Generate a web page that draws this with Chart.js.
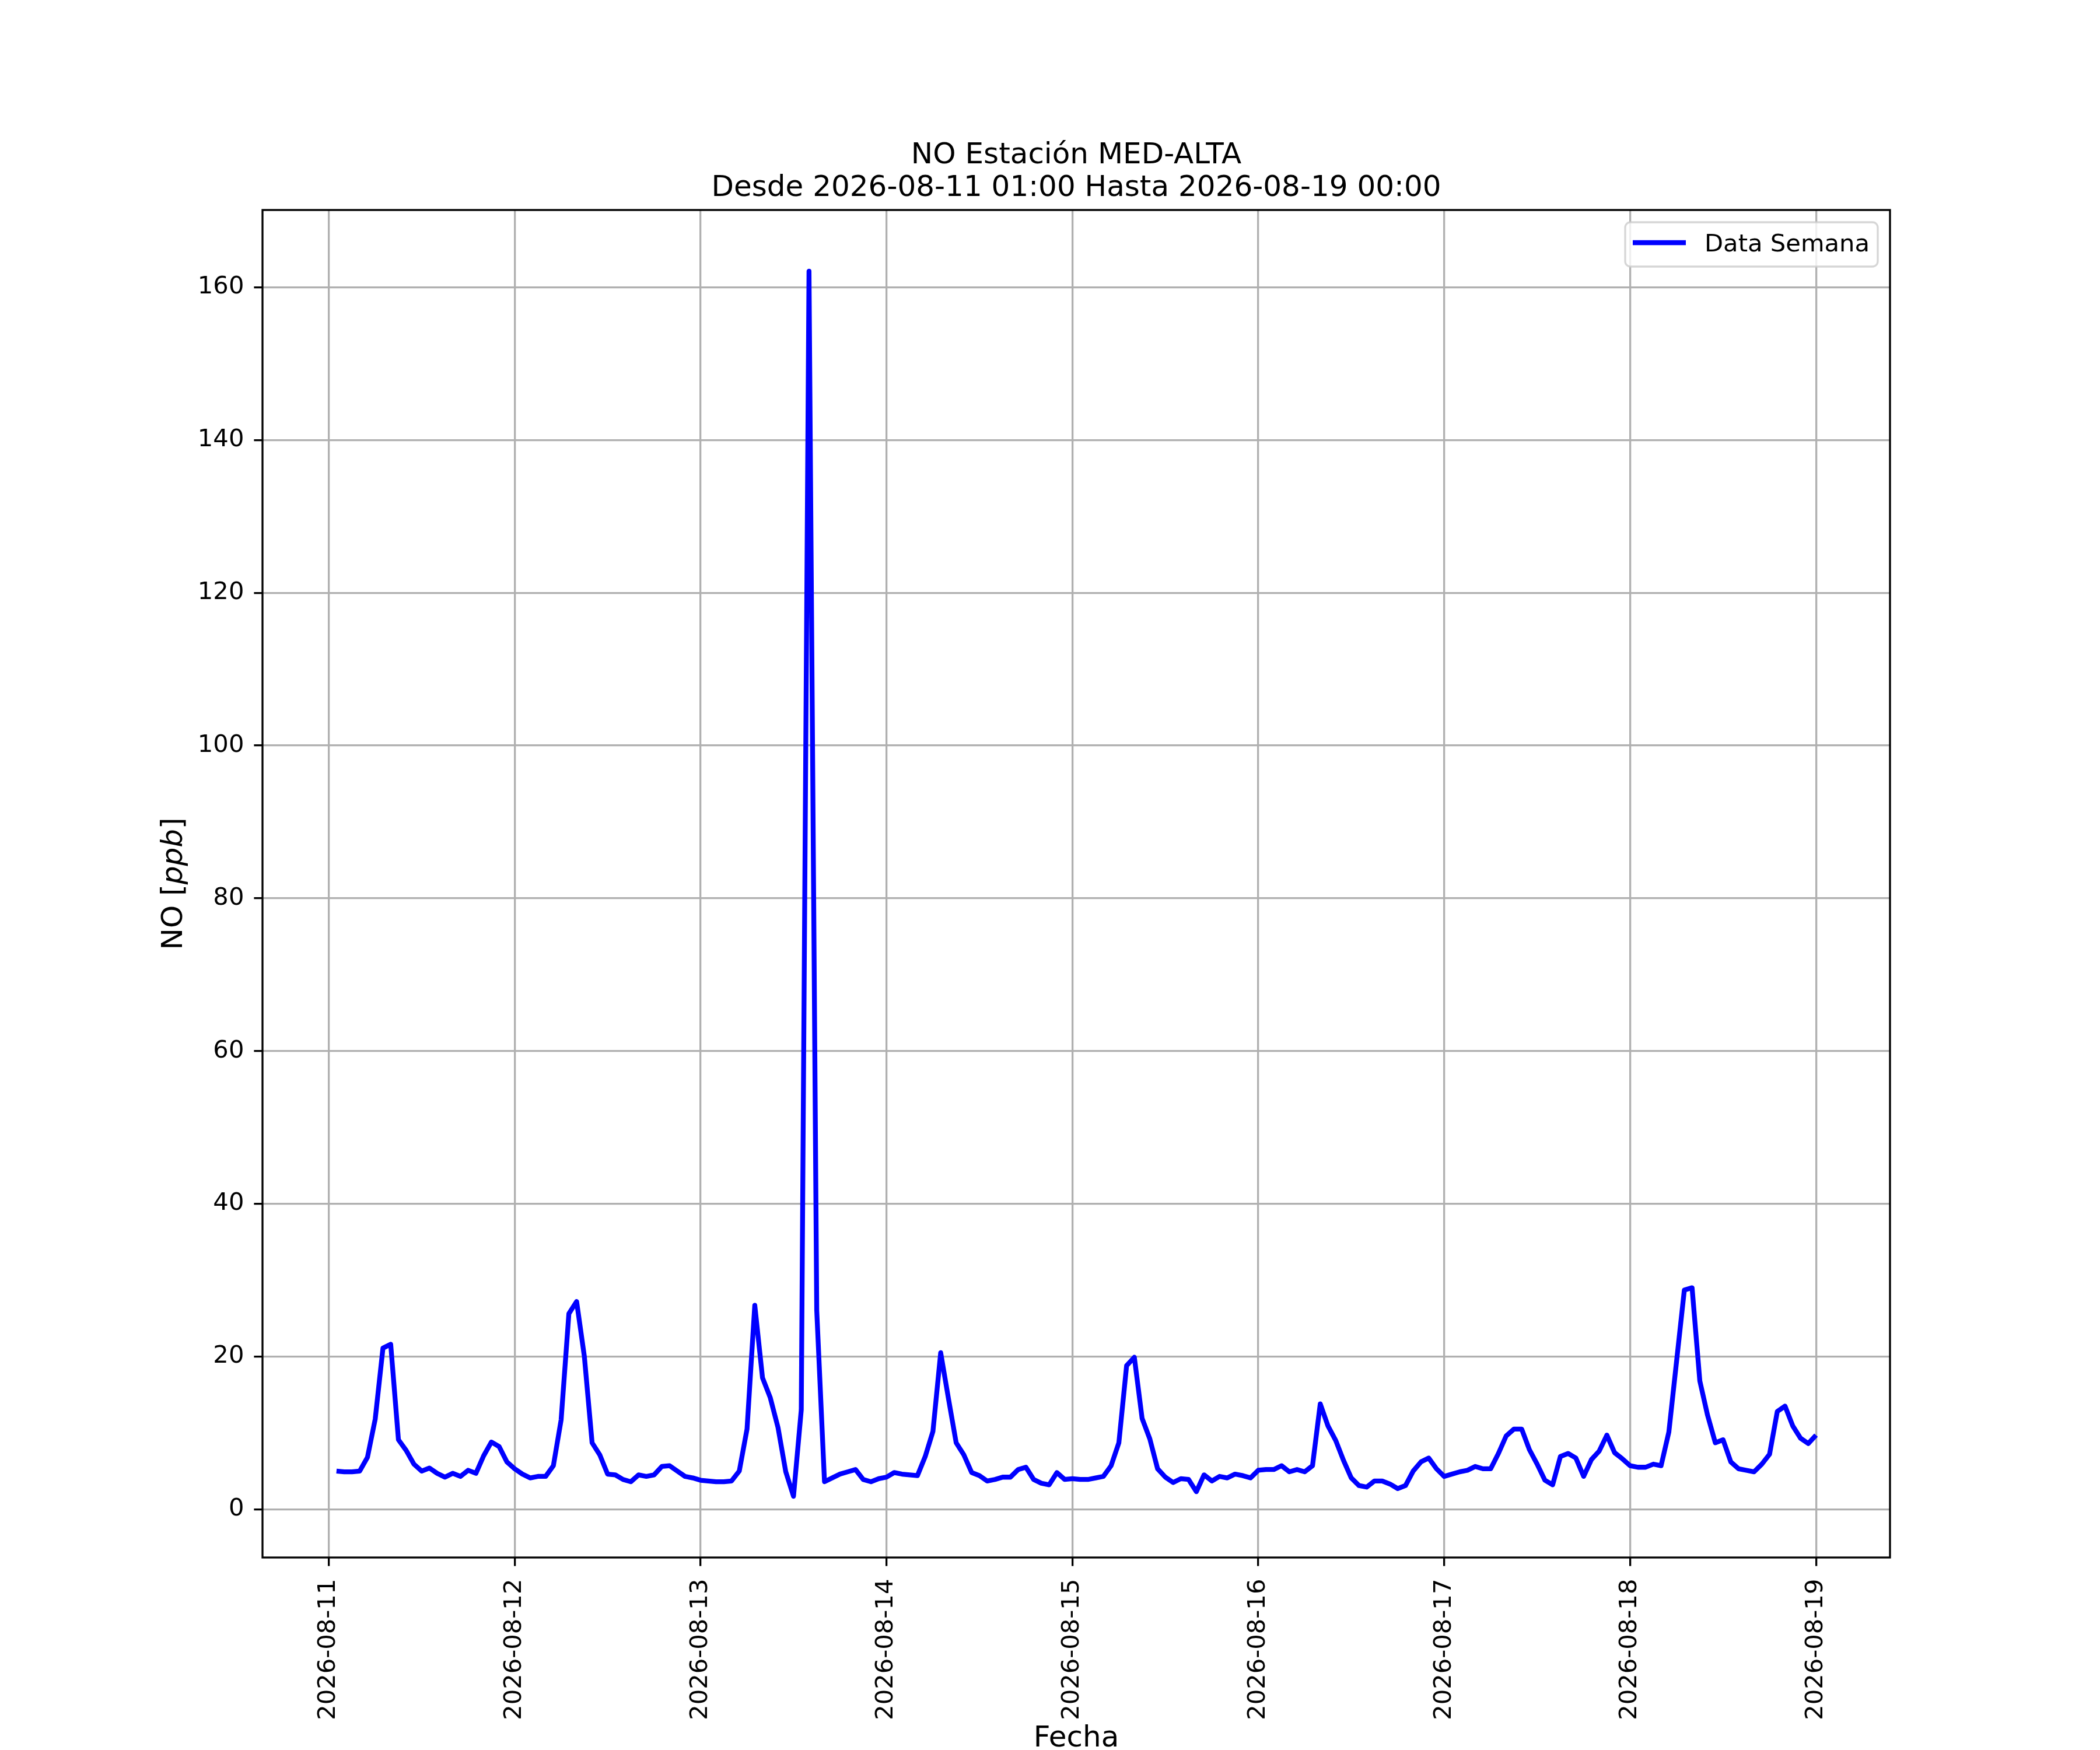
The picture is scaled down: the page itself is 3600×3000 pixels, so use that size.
<!DOCTYPE html>
<html>
<head>
<meta charset="utf-8">
<title>NO Estación MED-ALTA</title>
<script src="https://cdn.jsdelivr.net/npm/chart.js@4.4.0/dist/chart.umd.min.js"></script>
<style>
  html, body { margin: 0; padding: 0; background: #fff; }
  canvas { display: block; }
</style>
</head>
<body>
<canvas id="noChart" width="3600" height="3000"></canvas>
<script>
// hourly NO readings [ppb], one array per day (08-11 starts at 01:00)
const aug11 = [5.0, 4.9, 4.9, 5.0, 6.8, 11.8, 21.1, 21.6, 9.1, 7.7, 5.9, 5.0, 5.4, 4.7, 4.2, 4.7, 4.3, 5.1, 4.7, 7.0, 8.8, 8.2, 6.2];
const aug12 = [5.3, 4.6, 4.1, 4.3, 4.3, 5.7, 11.7, 25.6, 27.2, 20.0, 8.7, 7.1, 4.6, 4.5, 3.9, 3.6, 4.5, 4.3, 4.5, 5.6, 5.7, 5.0, 4.3, 4.1];
const aug13 = [3.8, 3.7, 3.6, 3.6, 3.7, 5.0, 10.5, 26.7, 17.2, 14.6, 10.7, 4.9, 1.7, 13.0, 162.1, 26.0, 3.6, 4.1, 4.6, 4.9, 5.2, 3.9, 3.6, 4.0];
const aug14 = [4.2, 4.8, 4.6, 4.5, 4.4, 6.9, 10.2, 20.5, 14.5, 8.7, 7.1, 4.8, 4.4, 3.7, 3.9, 4.2, 4.2, 5.2, 5.5, 3.9, 3.4, 3.2, 4.8, 3.9];
const aug15 = [4.0, 3.9, 3.9, 4.1, 4.3, 5.7, 8.7, 18.8, 19.9, 11.9, 9.2, 5.3, 4.2, 3.5, 4.0, 3.9, 2.3, 4.5, 3.7, 4.3, 4.1, 4.6, 4.4, 4.1];
const aug16 = [5.1, 5.2, 5.2, 5.7, 4.9, 5.2, 4.9, 5.7, 13.8, 10.9, 9.0, 6.4, 4.1, 3.1, 2.9, 3.7, 3.7, 3.3, 2.7, 3.1, 5.0, 6.2, 6.7, 5.3];
const aug17 = [4.3, 4.6, 4.9, 5.1, 5.6, 5.3, 5.3, 7.3, 9.6, 10.5, 10.5, 7.8, 5.9, 3.8, 3.2, 6.9, 7.3, 6.7, 4.3, 6.5, 7.6, 9.7, 7.4, 6.6];
const aug18 = [5.7, 5.5, 5.5, 5.9, 5.7, 10.1, 19.4, 28.7, 29.0, 16.8, 12.3, 8.7, 9.1, 6.2, 5.3, 5.1, 4.9, 5.9, 7.2, 12.8, 13.5, 10.9, 9.3, 8.6];
const aug19 = [9.7];

const xTickLabels = ['2026-08-11', '2026-08-12', '2026-08-13', '2026-08-14', '2026-08-15',
                     '2026-08-16', '2026-08-17', '2026-08-18', '2026-08-19'];
const yTicks = [0, 20, 40, 60, 80, 100, 120, 140, 160];

const titleLines = ['NO Estación MED-ALTA', 'Desde 2026-08-11 01:00 Hasta 2026-08-19 00:00'];
const seriesLabel = 'Data Semana';

const FONT = "'DejaVu Sans', 'Liberation Sans', sans-serif";
const SMALL = 41.7;   // 10pt at 300 dpi
const LARGE = 50;     // 12pt at 300 dpi

// x is hours since 2026-08-11 00:00
const buildPoints = () => {
    const points = [];
    aug11.forEach((v, i) => points.push({ x: i + 1, y: v }));
    [aug12, aug13, aug14, aug15, aug16, aug17, aug18, aug19].forEach((day, d) => {
        day.forEach((v, h) => points.push({ x: (d + 1) * 24 + h, y: v }));
    });
    return points;
};

const points = buildPoints();
const xTickHours = xTickLabels.map((_, i) => i * 24);

// matplotlib-like autoscale margins (5%)
const xs = points.map(p => p.x), ys = points.map(p => p.y);
const xSpan = Math.max(...xs) - Math.min(...xs);
const ySpan = Math.max(...ys) - Math.min(...ys);

const decorPlugin = {
    id: 'decor',
    afterDraw(chart) {
        const { ctx, chartArea: a } = chart;
        const ds = chart.data.datasets[0];
        ctx.save();

        // frame
        ctx.strokeStyle = '#000';
        ctx.lineWidth = 3.3;
        ctx.strokeRect(a.left, a.top, a.right - a.left, a.bottom - a.top);

        // title
        const cx = (a.left + a.right) / 2;
        ctx.fillStyle = '#000';
        ctx.textAlign = 'center';
        ctx.textBaseline = 'alphabetic';
        ctx.font = `${LARGE}px ${FONT}`;
        ctx.fillText(titleLines[0], cx, 280);
        ctx.fillText(titleLines[1], cx, 336);

        // x axis label
        ctx.fillText('Fecha', cx, 2994);

        // y axis label, "ppb" in italics
        const cy = (a.top + a.bottom) / 2;
        const parts = [['NO [', 'normal'], ['ppb', 'italic'], [']', 'normal']];
        let total = 0;
        parts.forEach(([t, s]) => { ctx.font = `${s} ${LARGE}px ${FONT}`; total += ctx.measureText(t).width; });
        ctx.translate(312, cy);
        ctx.rotate(-Math.PI / 2);
        ctx.textAlign = 'left';
        let px = -total / 2;
        parts.forEach(([t, s]) => {
            ctx.font = `${s} ${LARGE}px ${FONT}`;
            ctx.fillText(t, px, 0);
            px += ctx.measureText(t).width;
        });
        ctx.setTransform(1, 0, 0, 1, 0, 0);

        // legend, upper right
        const bx = 2786, by = 381, bw = 433, bh = 76;
        ctx.beginPath();
        ctx.roundRect(bx, by, bw, bh, 9);
        ctx.fillStyle = 'rgba(255,255,255,0.8)';
        ctx.fill();
        ctx.strokeStyle = 'rgba(204,204,204,0.8)';
        ctx.lineWidth = 3.3;
        ctx.stroke();

        ctx.beginPath();
        ctx.moveTo(2799, 416);
        ctx.lineTo(2890, 416);
        ctx.strokeStyle = ds.borderColor;
        ctx.lineWidth = ds.borderWidth;
        ctx.stroke();

        ctx.fillStyle = '#000';
        ctx.font = `${SMALL}px ${FONT}`;
        ctx.textAlign = 'left';
        ctx.fillText(ds.label, 2922, 431);

        ctx.restore();
    }
};

const ctx = document.getElementById('noChart').getContext('2d');
const chart = new Chart(ctx, {
    type: 'line',
    data: {
        datasets: [{
            label: seriesLabel,
            data: points,
            borderColor: '#0000ff',
            borderWidth: 8.3,
            borderJoinStyle: 'round',
            pointRadius: 0,
            tension: 0,
            fill: false
        }]
    },
    options: {
        responsive: false,
        devicePixelRatio: 1,
        animation: false,
        layout: {
            padding: { top: 360, right: 360, left: 0, bottom: 0 }
        },
        plugins: {
            legend: { display: false },
            title: { display: false },
            tooltip: { enabled: false }
        },
        scales: {
            x: {
                type: 'linear',
                min: Math.min(...xs) - 0.05 * xSpan,
                max: Math.max(...xs) + 0.05 * xSpan,
                afterBuildTicks: (scale) => {
                    scale.ticks = xTickHours.map(v => ({ value: v }));
                },
                afterFit: (scale) => { scale.height = 330; },
                ticks: {
                    autoSkip: false,
                    minRotation: 90,
                    maxRotation: 90,
                    padding: 22,
                    color: '#000',
                    font: { family: FONT, size: SMALL },
                    callback: (value) => xTickLabels[xTickHours.indexOf(value)]
                },
                grid: {
                    color: '#b0b0b0',
                    lineWidth: 3.3,
                    tickLength: 14.6,
                    tickColor: '#000',
                    tickWidth: 3.3
                },
                border: { display: false }
            },
            y: {
                min: Math.min(...ys) - 0.05 * ySpan,
                max: Math.max(...ys) + 0.05 * ySpan,
                afterBuildTicks: (scale) => {
                    scale.ticks = yTicks.map(v => ({ value: v }));
                },
                afterFit: (scale) => { scale.width = 450; },
                ticks: {
                    padding: 17,
                    color: '#000',
                    font: { family: FONT, size: SMALL },
                    callback: (value) => String(value)
                },
                grid: {
                    color: '#b0b0b0',
                    lineWidth: 3.3,
                    tickLength: 14.6,
                    tickColor: '#000',
                    tickWidth: 3.3
                },
                border: { display: false }
            }
        }
    },
    plugins: [decorPlugin]
});
</script>
</body>
</html>
